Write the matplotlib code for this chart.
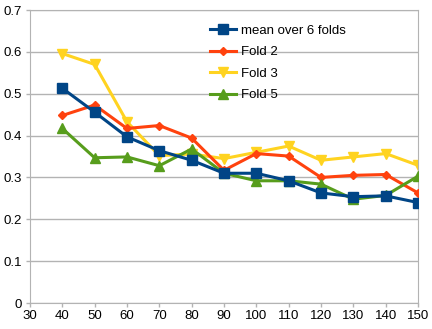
import matplotlib
matplotlib.use("Agg")
import matplotlib.pyplot as plt

# ---------- Data ----------
x_vals = [40, 50, 60, 70, 80, 90, 100, 110, 120, 130, 140, 150]

mean_folds = [0.513, 0.456, 0.397, 0.364, 0.341, 0.310, 0.310, 0.292, 0.263, 0.254, 0.256, 0.240]
fold_2 = [0.448, 0.473, 0.417, 0.424, 0.394, 0.317, 0.357, 0.351, 0.300, 0.305, 0.307, 0.263]
fold_3 = [0.596, 0.570, 0.433, 0.352, 0.356, 0.345, 0.360, 0.375, 0.341, 0.349, 0.357, 0.329]
fold_5 = [0.417, 0.347, 0.349, 0.328, 0.368, 0.310, 0.292, 0.292, 0.284, 0.248, 0.257, 0.303]

labels = ["mean over 6 folds", "Fold 2", "Fold 3", "Fold 5"]
x_ticks = [30, 40, 50, 60, 70, 80, 90, 100, 110, 120, 130, 140, 150]
y_ticks = [0, 0.1, 0.2, 0.3, 0.4, 0.5, 0.6, 0.7]

# ---------- Style ----------
plt.rcParams["font.family"] = ["Liberation Sans", "DejaVu Sans"]
plt.rcParams["font.size"] = 9.5

fig = plt.figure(figsize=(4.32, 3.29), dpi=100)
ax = fig.add_axes([0.0694, 0.079, 0.8982, 0.8906])

lw = 2.2
ax.plot(x_vals, fold_2, color="#ff420e", marker="D", markersize=4.5, lw=lw, label=labels[1], zorder=3)
ax.plot(x_vals, fold_3, color="#ffd320", marker="v", markersize=7, lw=lw, label=labels[2], zorder=2)
ax.plot(x_vals, fold_5, color="#579d1c", marker="^", markersize=6.5, lw=lw, label=labels[3], zorder=3)
ax.plot(x_vals, mean_folds, color="#004586", marker="s", markersize=6.5, lw=lw, label=labels[0], zorder=4)

ax.set_xlim(30, 150)
ax.set_ylim(0, 0.7)
ax.set_xticks(x_ticks)
ax.set_yticks(y_ticks)
ax.set_yticklabels(["0", "0.1", "0.2", "0.3", "0.4", "0.5", "0.6", "0.7"])

ax.yaxis.grid(True, color="#b3b3b3", lw=1)
ax.set_axisbelow(True)
for side in ["left", "right", "bottom", "top"]:
    ax.spines[side].set_color("#b3b3b3")
ax.tick_params(axis="both", color="#b3b3b3", length=3, width=1, direction="out", pad=2)
ax.tick_params(axis="y", pad=3)

# legend: mean first, then folds
handles, lbls = ax.get_legend_handles_labels()
order = [3, 0, 1, 2]
ax.legend([handles[i] for i in order], [lbls[i] for i in order],
          loc="upper left", bbox_to_anchor=(0.45, 0.968), frameon=False,
          handlelength=2.0, handletextpad=0.35, labelspacing=0.7, borderaxespad=0)

fig.savefig("out.png", dpi=100)
